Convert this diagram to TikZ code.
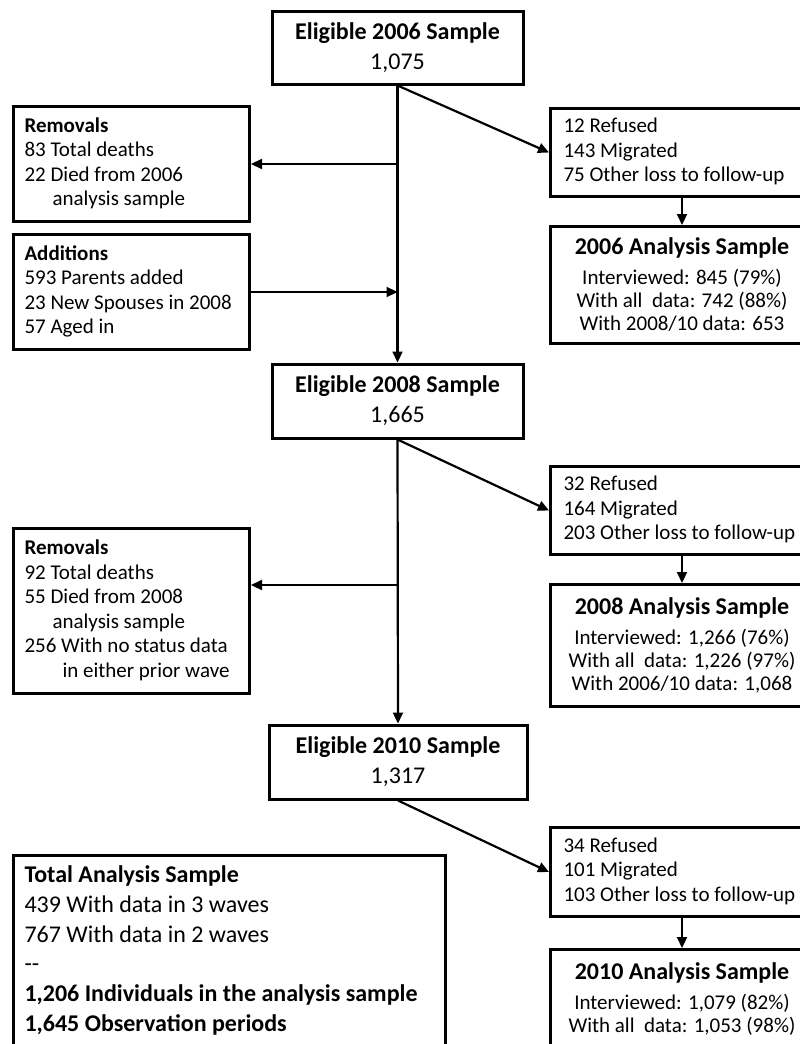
\documentclass[tikz,border=0pt]{standalone}
\usepackage{fontspec}
\setmainfont{Carlito}
\usetikzlibrary{arrows.meta}
\tikzset{
    %Define style for boxes
    frame/.style={
           rectangle,
           draw=black, line width=3pt,
           inner xsep=13pt, inner ysep=0pt},
    % sample boxes, centred text
    sbox/.style={
           frame,
           align=center,
           font=\fontsize{24}{30}\selectfont},
    % boxes with lists
    lbox/.style={
           frame,
           anchor=north west,
           align=flush left,
           font=\fontsize{21}{24.5}\selectfont},
    % the left column sits a bit closer to its text
    left col/.style={lbox, inner xsep=11pt},
    % Define arrow style
    arr/.style={
           -{Triangle[length=11pt,width=10pt]},
           line width=2.2pt}
}
\newcommand*{\ind}[1]{\hspace*{#1pt}}
\newcommand*{\head}[1]{{\fontsize{24}{29}\selectfont\bfseries #1}\\[7pt]}
\newcommand{\rows}[1]{\begin{tabular}{@{}l@{}}#1\end{tabular}}

\begin{document}
\begin{tikzpicture}[x=1pt,y=-1pt]
\useasboundingbox (0,0) rectangle (800,1044);
\clip (0,0) rectangle (800,1044);

% Eligible samples down the middle
\node[sbox, minimum width=251, minimum height=73] (e06) at (397.5,47.5)
    {\textbf{Eligible 2006 Sample}\\1,075};
\node[sbox, minimum width=251, minimum height=74] (e08) at (397.5,401)
    {\textbf{Eligible 2008 Sample}\\1,665};
\node[sbox, minimum width=258, minimum height=74] (e10) at (398,762)
    {\textbf{Eligible 2010 Sample}\\1,317};

% Left column
\node[left col, minimum width=236, minimum height=115, text width=214] (rem06) at (12,105)
    {\rows{\textbf{Removals}\\
     83 Total deaths\\
     22 Died from 2006\\
     \ind{28}analysis sample}};
\node[left col, minimum width=236, minimum height=115, text width=214] (add08) at (12,233)
    {\rows{\textbf{Additions}\\
     593 Parents added\\
     23 New Spouses in 2008\\
     57 Aged in}};
\node[left col, minimum width=236, minimum height=165, text width=214] (rem08) at (12,527)
    {\rows{\textbf{Removals}\\
     92 Total deaths\\
     55 Died from 2008\\
     \ind{28}analysis sample\\
     256 With no status data\\
     \ind{38}in either prior wave}};
\node[left col, font=\fontsize{24}{29.8}\selectfont,
      minimum width=432, minimum height=191, text width=410] (total) at (12,854)
    {\rows{\textbf{Total Analysis Sample}\\
     439 With data in 3 waves\\
     767 With data in 2 waves\\
     -{}-\\
     \textbf{1,206 Individuals in the analysis sample}\\
     \textbf{1,645 Observation periods}}};

% Right column: losses
\node[lbox, minimum width=263, minimum height=88, text width=250] (loss06) at (549,107)
    {\rows{12 Refused\\
     143 Migrated\\
     75 Other loss to follow-up}};
\node[lbox, minimum width=263, minimum height=88, text width=250] (loss08) at (549,465)
    {\rows{32 Refused\\
     164 Migrated\\
     203 Other loss to follow-up}};
\node[lbox, minimum width=263, minimum height=89, text width=250] (loss10) at (549,826)
    {\rows{34 Refused\\
     101 Migrated\\
     103 Other loss to follow-up}};

% Right column: analysis samples
\node[sbox, anchor=north west, font=\fontsize{21}{23}\selectfont,
      minimum width=263, minimum height=117] (an06) at (549,225)
    {\head{2006 Analysis Sample}
     Interviewed: 845 (79\%)\\
     With all\ \ data: 742 (88\%)\\
     With 2008/10 data: 653};
\node[sbox, anchor=north west, font=\fontsize{21}{23}\selectfont,
      minimum width=263, minimum height=122] (an08) at (549,583)
    {\head{2008 Analysis Sample}
     Interviewed: 1,266 (76\%)\\
     With all\ \ data: 1,226 (97\%)\\
     With 2006/10 data: 1,068};
\node[sbox, anchor=north west, font=\fontsize{21}{23}\selectfont,
      minimum width=263, minimum height=99] (an10) at (549,948)
    {\head{2010 Analysis Sample}
     Interviewed: 1,079 (82\%)\\
     With all\ \ data: 1,053 (98\%)};

% Now connect the nodes
\coordinate (j08) at (398,585);
\draw[arr] (e06.south) -- (e08.north);
\draw[arr] (e08.south) -- (e10.north);
\draw[arr] (e06.south |- rem06.east) -- (rem06.east);
\draw[arr] (add08.east) -- (add08.east -| e06.south);
\draw[arr] (j08) -- (j08 -| rem08.east);

\draw[arr] (e06.south) -- (loss06.west);
\draw[arr] (e08.south) -- (loss08.west);
\draw[arr] (e10.south) -- (loss10.west);

\draw[arr] (loss06.south -| an06.north) -- (an06.north);
\draw[arr] (loss08.south -| an08.north) -- (an08.north);
\draw[arr] (loss10.south -| an10.north) -- (an10.north);
\end{tikzpicture}
\end{document}
